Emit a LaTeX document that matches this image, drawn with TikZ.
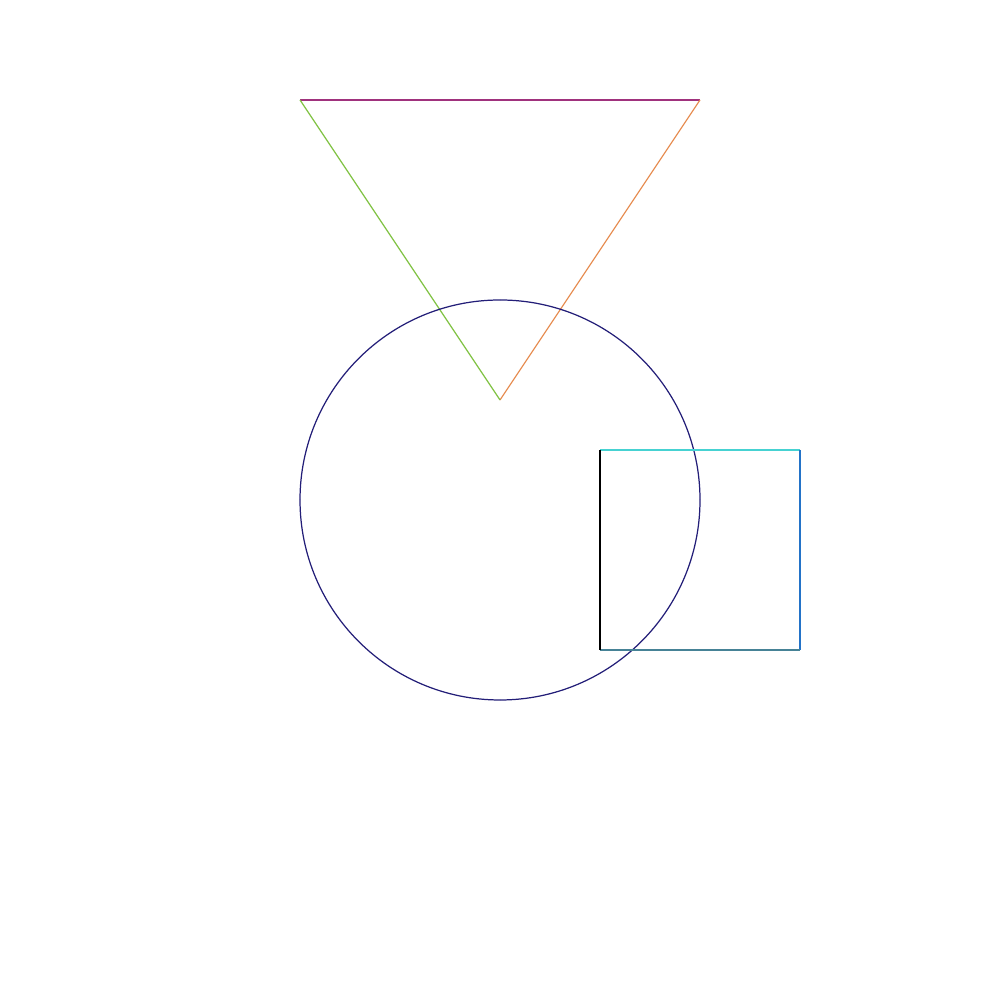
\documentclass[tikz,border=0pt]{standalone}
\usepackage{xcolor}
\usetikzlibrary{positioning}

\definecolor{edgetop}{RGB}{160,50,125}
\definecolor{edgeleft}{RGB}{130,195,70}
\definecolor{edgeright}{RGB}{230,140,80}
\definecolor{ringcol}{RGB}{35,30,120}
\definecolor{sqtop}{RGB}{70,210,210}
\definecolor{sqright}{RGB}{35,115,200}
\definecolor{sqbottom}{RGB}{70,130,150}

\begin{document}
\begin{tikzpicture}[
  thinline/.style={line width=0.35pt},
]
\useasboundingbox (0,0) rectangle (10,10);

% Triangle corners
\coordinate (tl) at (3,9);
\coordinate (tr) at (7,9);
\coordinate (tb) at (5,6);

% Triangle
\draw[thinline, edgetop] (tl) -- (tr);
\draw[thinline, edgeright] (tr) -- (tb);
\draw[thinline, edgeleft] (tb) -- (tl);

% Circle, drawn in four quarters
\coordinate (cc) at (5,5);
\draw[thinline, ringcol] (7,5) arc (0:90:2);
\draw[thinline, ringcol] (5,7) arc (90:180:2);
\draw[thinline, ringcol] (3,5) arc (180:270:2);
\draw[thinline, ringcol] (5,3) arc (270:360:2);

% Square corners
\coordinate (sa) at (6,5.5);
\coordinate (sb) at (8,5.5);
\coordinate (sc) at (8,3.5);
\coordinate (sd) at (6,3.5);

% Square
\draw[thinline, sqtop] (sa) -- (sb);
\draw[thinline, sqright] (sb) -- (sc);
\draw[thinline, sqbottom] (sc) -- (sd);
\draw[thinline, black] (sd) -- (sa);

\end{tikzpicture}
\end{document}
